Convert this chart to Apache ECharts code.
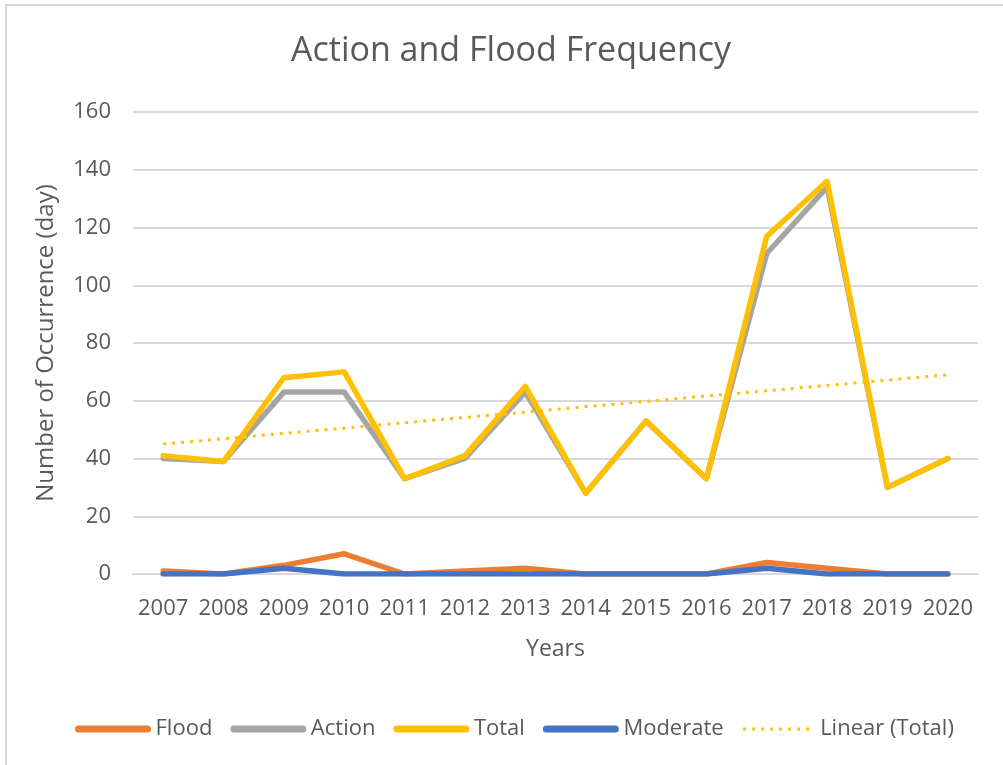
<!DOCTYPE html>
<html><head><meta charset="utf-8">
<script src="https://cdn.jsdelivr.net/npm/echarts@6/dist/echarts.min.js"></script>
<style>html,body{margin:0;padding:0;background:#fff}#c{width:1003px;height:765px}</style>
</head><body><div id="c"></div>
<script>
const years = ['2007','2008','2009','2010','2011','2012','2013','2014','2015','2016','2017','2018','2019','2020'];
const flood = [1,0,3,7,0,1,2,0,0,0,4,2,0,0];
const action = [40,39,63,63,33,40,63,28,53,33,111,134,30,40];
const total = [41,39,68,70,33,41,65,28,53,33,117,136,30,40];
const moderate = [0,0,2,0,0,0,0,0,0,0,2,0,0,0];
// trendline endpoints (first and last year)
const linearTotal = [45,null,null,null,null,null,null,null,null,null,null,null,null,69];
const yTicks = [0,20,40,60,80,100,120,140,160];

const FONT = 'Open Sans';
const TXT = '#595959';
const chart = echarts.init(document.getElementById('c'), null, {renderer:'canvas'});
chart.setOption({
  animation:false,
  backgroundColor:'#fff',
  textStyle:{fontFamily:FONT},
  graphic:[{type:'rect',shape:{x:6,y:5,width:1100,height:900},style:{fill:'none',stroke:'#D9D9D9',lineWidth:2},silent:true}],
  title:{text:'Action and Flood Frequency',left:286,top:29,
    textStyle:{fontFamily:FONT,fontSize:34,fontWeight:'normal',color:TXT}},
  grid:{left:133,right:25,top:112,bottom:191},
  legend:{bottom:20,left:70,itemWidth:69,itemHeight:14,itemGap:18,
    itemStyle:{opacity:0},
    textStyle:{fontFamily:FONT,fontSize:22,color:TXT,padding:[0,0,0,3]},
    data:[
      {name:'Flood',lineStyle:{width:7,cap:'round'}},
      {name:'Action',lineStyle:{width:7,cap:'round'}},
      {name:'Total',lineStyle:{width:7,cap:'round'}},
      {name:'Moderate',lineStyle:{width:7,cap:'round'}},
      {name:'Linear (Total)',lineStyle:{width:3,type:[3,6]}}
    ]},
  xAxis:{type:'category',data:years,boundaryGap:true,
    name:'Years',nameLocation:'middle',nameGap:64,
    nameTextStyle:{fontFamily:FONT,fontSize:23,color:TXT},
    axisLine:{lineStyle:{color:'#D9D9D9',width:2}},axisTick:{show:false},
    axisLabel:{fontFamily:FONT,fontSize:22,color:TXT,margin:24,interval:0}},
  yAxis:{type:'value',min:yTicks[0],max:yTicks[yTicks.length-1],interval:20,
    name:'Number of Occurrence (day)',nameLocation:'middle',nameGap:75,nameRotate:90,
    nameTextStyle:{fontFamily:FONT,fontSize:24,color:TXT},
    axisLine:{show:false},axisTick:{show:false},
    axisLabel:{fontFamily:FONT,fontSize:22,color:TXT,margin:22},
    splitLine:{lineStyle:{color:'#D9D9D9',width:2}}},
  series:[
    {name:'Flood',type:'line',data:flood,symbol:'none',z:2,
      lineStyle:{color:'#ED7D31',width:5.5,cap:'round',join:'round'},itemStyle:{color:'#ED7D31'}},
    {name:'Action',type:'line',data:action,symbol:'none',z:3,
      lineStyle:{color:'#A5A5A5',width:5.5,cap:'round',join:'round'},itemStyle:{color:'#A5A5A5'}},
    {name:'Total',type:'line',data:total,symbol:'none',z:4,
      lineStyle:{color:'#FFC000',width:5.5,cap:'round',join:'round'},itemStyle:{color:'#FFC000'}},
    {name:'Moderate',type:'line',data:moderate,symbol:'none',z:5,
      lineStyle:{color:'#4472C4',width:5.5,cap:'round',join:'round'},itemStyle:{color:'#4472C4'}},
    {name:'Linear (Total)',type:'line',data:linearTotal,connectNulls:true,symbol:'none',z:6,
      lineStyle:{color:'#FFC000',width:3,type:[3,6]},itemStyle:{color:'#FFC000'}}
  ]
});
</script></body></html>
